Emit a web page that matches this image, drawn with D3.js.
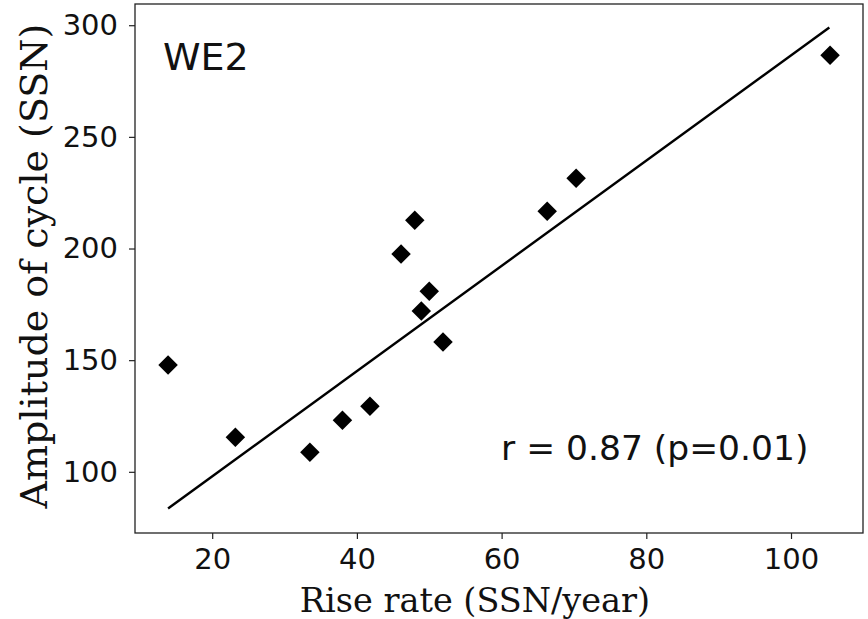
<!DOCTYPE html>
<html>
<head>
<meta charset="utf-8">
<script src="https://cdn.jsdelivr.net/npm/d3@7"></script>
<style>
  html, body { margin: 0; padding: 0; background: #fff; }
  svg { display: block; }
</style>
</head>
<body>
<svg id="chart" width="868" height="619"></svg>
<script>
// Rise rate vs. cycle amplitude, one point per cycle
const riseRate  = [13.9, 23.2, 33.5, 38.0, 41.8, 46.1, 48.0, 48.9, 50.0, 51.9, 66.3, 70.3, 105.4];
const amplitude = [147.8, 115.5, 108.8, 123.1, 129.4, 197.5, 212.7, 172.0, 180.9, 158.1, 216.7, 231.5, 286.6];

// Least-squares fit line, drawn between its two end points
const fitX = [13.9, 105.3];
const fitY = [83.6, 299.0];

const xTicks = [20, 40, 60, 80, 100];
const yTicks = [100, 150, 200, 250, 300];

const panelLabel = "WE2";
const statLabel = "r = 0.87 (p=0.01)";
const xTitle = "Rise rate (SSN/year)";
const yTitle = "Amplitude of cycle (SSN)";

const svg = d3.select("#chart");
const plot = { left: 135, right: 863, top: 4, bottom: 533 };

const x = d3.scaleLinear().domain([9.33, 109.95]).range([plot.left, plot.right]);
const y = d3.scaleLinear().domain([72.6, 309.5]).range([plot.bottom, plot.top]);

const sansFont = "'DejaVu Sans', sans-serif";
const serifFont = "'DejaVu Serif', serif";

// Axes with outward ticks
const xAxis = d3.axisBottom(x).tickValues(xTicks).tickSize(6).tickPadding(9).tickFormat(d3.format("d"));
const yAxis = d3.axisLeft(y).tickValues(yTicks).tickSize(6).tickPadding(11).tickFormat(d3.format("d"));

const gx = svg.append("g").attr("transform", `translate(0,${plot.bottom})`).call(xAxis);
const gy = svg.append("g").attr("transform", `translate(${plot.left},0)`).call(yAxis);

[gx, gy].forEach(g => {
  g.select(".domain").remove();
  g.selectAll(".tick line").attr("stroke", "#222").attr("stroke-width", 1.2);
  g.selectAll(".tick text")
    .attr("fill", "#111")
    .style("font-family", sansFont)
    .style("font-size", "29px");
});
gx.selectAll(".tick text").attr("dy", "0.71em");

// Plot frame
svg.append("rect")
  .attr("x", plot.left).attr("y", plot.top)
  .attr("width", plot.right - plot.left).attr("height", plot.bottom - plot.top)
  .attr("fill", "none").attr("stroke", "#222").attr("stroke-width", 1.3);

// Fit line
svg.append("path")
  .datum(d3.zip(fitX, fitY))
  .attr("d", d3.line().x(d => x(d[0])).y(d => y(d[1])))
  .attr("fill", "none").attr("stroke", "#000").attr("stroke-width", 2.4);

// Diamond markers
const diamond = d3.symbol().type(d3.symbolSquare).size(190);
svg.append("g").selectAll("path")
  .data(d3.zip(riseRate, amplitude))
  .join("path")
  .attr("d", diamond)
  .attr("transform", d => `translate(${x(d[0])},${y(d[1])}) rotate(45)`)
  .attr("fill", "#000");

// Panel label and correlation text
svg.append("text")
  .attr("x", 163).attr("y", 70)
  .style("font-family", sansFont).style("font-size", "38px")
  .attr("fill", "#111")
  .text(panelLabel);

svg.append("text")
  .attr("x", 501).attr("y", 460)
  .style("font-family", sansFont).style("font-size", "34.5px")
  .attr("fill", "#111")
  .text(statLabel);

// Axis titles
svg.append("text")
  .attr("x", 475).attr("y", 612)
  .attr("text-anchor", "middle")
  .style("font-family", serifFont).style("font-size", "33.5px")
  .attr("fill", "#111")
  .text(xTitle);

svg.append("text")
  .attr("transform", "translate(47,266) rotate(-90)")
  .attr("text-anchor", "middle")
  .style("font-family", serifFont).style("font-size", "38px")
  .attr("fill", "#111")
  .text(yTitle);
</script>
</body>
</html>
